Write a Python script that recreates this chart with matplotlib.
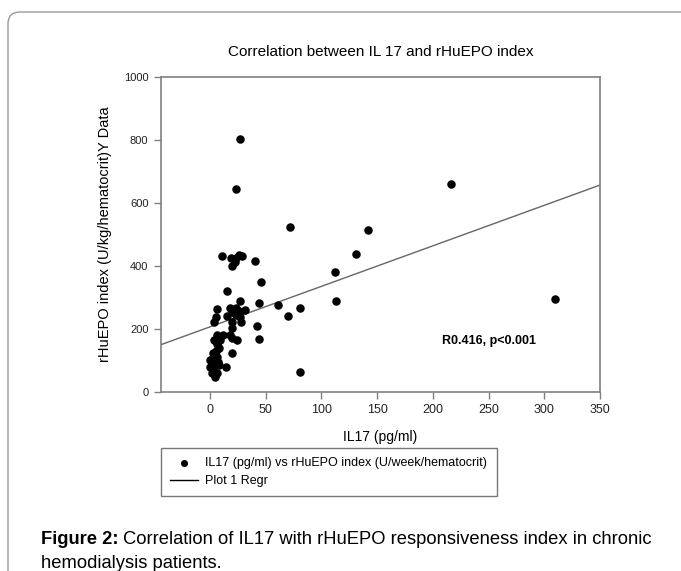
import numpy as np
import matplotlib
matplotlib.use('Agg')
import matplotlib.pyplot as plt
from matplotlib.patches import FancyBboxPatch
from matplotlib.transforms import IdentityTransform, offset_copy

plt.rcParams['font.family'] = ['Liberation Sans', 'DejaVu Sans']

# IL17 (pg/ml) vs rHuEPO index
il17 = [27, 23, 72, 216, 142, 131, 112, 113, 310, 81, 81, 70, 61,
        11, 19, 23, 26, 29, 20, 22, 40, 46, 15, 27, 44,
        6, 18, 23, 20, 26, 31, 5, 15, 23, 27, 28, 4, 20, 20, 42,
        6, 12, 4, 9, 6, 18, 20, 24, 44, 20,
        3, 6, 0, 3, 0, 3, 1.5, 4.5, 6, 8, 5, 2, 7, 14, 8]
epo = [802, 643, 522, 660, 514, 437, 380, 289, 294, 62, 265, 241, 275,
       432, 423, 423, 434, 431, 399, 413, 415, 347, 321, 288, 283,
       262, 265, 265, 254, 257, 259, 236, 240, 243, 237, 222, 222, 222, 201, 209,
       180, 180, 164, 164, 153, 180, 170, 164, 166, 124,
       122, 111, 100, 90, 79, 69, 58, 48, 60, 85, 130, 105, 95, 77, 140]

# regression line end points
regr_x = [-45, 350]
regr_y = [148, 656]

x_ticks = [0, 50, 100, 150, 200, 250, 300, 350]
y_ticks = [0, 200, 400, 600, 800, 1000]

W, H = 681, 571
fig = plt.figure(figsize=(W / 100, H / 100), dpi=100)
fig.patch.set_facecolor('white')

# page frame (rounded top-left corner)
frame = FancyBboxPatch((8, -40), 720, H - 12 + 40,
                       boxstyle='round,pad=0,rounding_size=12',
                       transform=IdentityTransform(), facecolor='none',
                       edgecolor='#9a9a9a', linewidth=1.0)
fig.patches.append(frame)

ax = fig.add_axes([161 / W, 1 - 391.7 / H, (600 - 161) / W, (391.7 - 76.7) / H])
gray = '#808080'

ax.scatter(il17, epo, s=26, color='black', zorder=3,
           label='IL17 (pg/ml) vs rHuEPO index (U/week/hematocrit)')
ax.plot(regr_x, regr_y, color='#666666', linewidth=1.0, zorder=2, label='Plot 1 Regr')

ax.set_xlim(-44, 350)
ax.set_ylim(0, 1000)
ax.set_xticks(x_ticks)
ax.set_yticks(y_ticks)
ax.tick_params(direction='out', length=5, width=1, color=gray,
               labelcolor='#222222', pad=4)
ax.tick_params(axis='x', labelsize=9)
ax.tick_params(axis='y', labelsize=8)
for spine in ax.spines.values():
    spine.set_edgecolor(gray)
    spine.set_linewidth(1.2)

ax.set_title('Correlation between IL 17 and rHuEPO index', fontsize=11, pad=15)
ax.set_xlabel('IL17 (pg/ml)', fontsize=10)
ax.set_ylabel('rHuEPO index (U/kg/hematocrit)Y Data', fontsize=10.5)
ax.xaxis.set_label_coords(0.5, -0.12)
ax.yaxis.set_label_coords(-0.112, 0.5)

ax.text(208, 162, 'R0.416, p<0.001', fontsize=9, fontweight='bold', va='center')

leg = ax.legend(loc='upper left', bbox_to_anchor=(161 / W, 1 - 448 / H),
                bbox_transform=fig.transFigure, fontsize=9, frameon=True,
                fancybox=False, borderpad=0.75, borderaxespad=0, handlelength=2.2,
                handletextpad=0.6, labelspacing=0.45, markerscale=0.8)
leg.get_frame().set_edgecolor('#555555')
leg.get_frame().set_linewidth(1.0)
leg.legend_handles[1].set_color('black')

# caption: bold lead-in followed by normal text
cap_x, cap_y1, cap_y2 = 41 / W, 1 - 540 / H, 1 - 563 / H
bold = fig.text(cap_x, cap_y1, 'Figure 2:', fontsize=13.2, fontweight='bold', va='center')
fig.canvas.draw()
bw = bold.get_window_extent().width
fig.text(cap_x, cap_y1,
         ' Correlation of IL17 with rHuEPO responsiveness index in chronic',
         fontsize=13.2, va='center',
         transform=offset_copy(fig.transFigure, fig=fig, x=bw, y=0, units='dots'))
fig.text(cap_x, cap_y2, 'hemodialysis patients.', fontsize=13.2, va='center')

fig.savefig('out.png', dpi=100)
